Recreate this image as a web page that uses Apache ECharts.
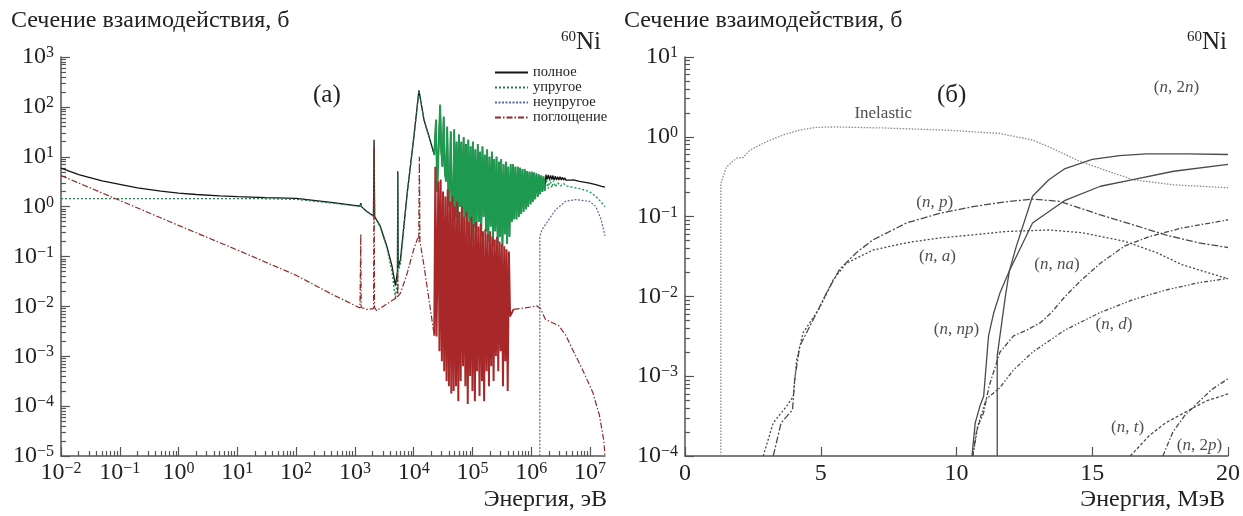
<!DOCTYPE html>
<html>
<head>
<meta charset="utf-8">
<script src="https://cdn.jsdelivr.net/npm/echarts@6.0.0/dist/echarts.min.js"></script>
<style>
html, body { margin: 0; padding: 0; background: #fff; }
#main { width: 1243px; height: 516px; }
</style>
</head>
<body>
<div id="main"></div>
<script>
var SERIF = '"Liberation Serif", "DejaVu Serif", serif';

// ---- panel (а): cross sections vs energy, eV / barn ----
var leftXTicks = [1e-2, 1e-1, 1, 10, 100, 1e3, 1e4, 1e5, 1e6, 1e7];
var leftYTicks = [1e-5, 1e-4, 1e-3, 1e-2, 1e-1, 1, 10, 100, 1e3];
var legendNames = ['полное', 'упругое', 'неупругое', 'поглощение'];

var totalLow = [[0.01,5.9],[0.02,4.4],[0.05,3.3],[0.1,2.8],[0.2,2.38],[0.5,2.04],[1,1.87],[2,1.75],[5,1.64],
  [10,1.58],[30,1.52],[100,1.46],[427,1.2],[1220,1.02],[1260,1.18],[1290,1.0],[1580,0.81],[2070,0.65],
  [2120,22],[2170,0.63],[2690,0.41],[3500,0.16],[4270,0.065],[4900,0.026],[5300,0.05],[5370,5.1],[5450,0.06],
  [5960,0.087],[7760,1.86],[10100,25.7],[12300,214],[15000,55],[18200,25.7],[22400,11]];
var elasticLow = [[0.01,1.45],[1,1.45],[30,1.44],[100,1.4],[427,1.17],[1220,1.0],[1260,1.15],[1290,0.99],
  [1580,0.8],[2070,0.64],[2120,12],[2170,0.62],[2690,0.4],[3500,0.15],[4270,0.05],[4900,0.014],[5300,0.04],
  [5370,4.5],[5450,0.05],[5960,0.07],[7760,1.8],[10100,25],[12300,212],[15000,54],[18200,25],[22400,10.8]];
// resonance region, shared by total and elastic
var resForest = [[2.4e4,55],[2.51e4,2.0],[2.82e4,110],[2.95e4,12.6],[3.09e4,6.3],[3.24e4,63],[3.39e4,5.0],
  [3.55e4,3.2],[3.72e4,40],[3.89e4,2.0],[4.07e4,1.0],[4.27e4,32],[4.47e4,1.6],[4.68e4,0.5],[4.9e4,35],
  [5.13e4,0.63],[5.37e4,20],[5.62e4,0.4],[5.89e4,28],[6.17e4,1.0],[6.46e4,20],[6.76e4,0.32],[7.08e4,25],
  [7.41e4,0.63],[7.76e4,18],[8.13e4,0.25],[8.51e4,22],[8.91e4,0.5],[9.33e4,16],[9.77e4,0.2],[1.02e5,20],
  [1.07e5,0.4],[1.12e5,14],[1.17e5,0.32],[1.23e5,18],[1.29e5,0.5],[1.35e5,12.6],[1.41e5,0.25],[1.48e5,16],
  [1.55e5,0.63],[1.62e5,11],[1.7e5,0.32],[1.78e5,14],[1.86e5,0.2],[1.95e5,10],[2.04e5,0.4],[2.14e5,12.6],
  [2.24e5,0.16],[2.34e5,8.9],[2.45e5,0.32],[2.57e5,10],[2.69e5,0.18],[2.82e5,7.9],[2.95e5,0.25],[3.09e5,8.9],
  [3.24e5,0.16],[3.39e5,7.1],[3.55e5,0.28],[3.72e5,7.9],[3.89e5,0.18],[4.07e5,6.3],[4.27e5,0.25],[4.47e5,7.1],
  [4.68e5,0.5],[4.9e5,7.1],[5.13e5,0.56],[5.37e5,6.3],[5.62e5,0.56],[5.89e5,6.3],[6.17e5,0.63],[6.46e5,6.0],
  [6.76e5,0.71],[7.08e5,5.6],[7.41e5,0.79],[7.76e5,5.6],[8.13e5,0.89],[8.51e5,5.2],[8.91e5,1.0],[9.33e5,5.0],
  [9.77e5,1.12],[1.02e6,5.0],[1.07e6,1.26],[1.12e6,4.8],[1.17e6,1.41],[1.23e6,4.6],[1.29e6,1.58],[1.35e6,4.4],
  [1.41e6,1.78],[1.48e6,4.2],[1.55e6,2.0],[1.62e6,4.0],[1.7e6,2.1]];
var totalHigh = [[1.78e6,4.4],[1.86e6,3.5],[1.95e6,4.3],[2.04e6,3.5],[2.14e6,4.2],[2.24e6,3.5],[2.34e6,4.2],
  [2.45e6,3.4],[2.57e6,4.1],[2.69e6,3.4],[2.82e6,4.0],[2.95e6,3.4],[3.09e6,4.0],[3.24e6,3.4],[3.39e6,3.9],
  [3.55e6,3.4],[3.72e6,3.8],[3.89e6,3.4],[4.07e6,3.7],[4.27e6,3.4],[4.47e6,3.6],[4.79e6,3.4],[5.25e6,3.45],
  [6.6e6,3.2],[9.8e6,2.95],[1.26e7,2.75],[1.58e7,2.55],[1.8e7,2.45]];
var elasticHigh = [[1.7e6,2.1],[1.82e6,3.5],[1.95e6,2.3],[2.09e6,3.5],[2.24e6,2.4],[2.4e6,3.3],[2.57e6,2.5],
  [2.82e6,3.0],[3.16e6,2.6],[3.55e6,2.9],[3.98e6,2.6],[5.0e6,2.45],[6.6e6,2.3],[9.8e6,2.0],[1.26e7,1.6],
  [1.58e7,1.2],[1.8e7,1.0]];
var inelasticLeft = [[1.4e6,1e-5],[1.4e6,0.255],[1.53e6,0.347],[2.0e6,0.55],[2.6e6,0.87],[3.86e6,1.28],
  [5.75e6,1.38],[9.8e6,1.28],[1.26e7,1.0],[1.55e7,0.55],[1.8e7,0.26]];
var captureLow = [[0.01,4.2],[0.1,1.33],[1,0.42],[10,0.135],[100,0.042],[427,0.017],[1220,0.0093],
  [1240,0.0095],[1260,0.28],[1280,0.0095],[1600,0.0087],[2080,0.009],[2120,15],[2160,0.0095],[2340,0.0082],
  [3100,0.0102],[4600,0.0138],[5300,0.015],[5370,0.05],[5450,0.016],[6000,0.0186],[7800,0.047],[10000,0.138],
  [11700,0.234],[12200,0.2],[12500,10],[12800,0.2],[15000,0.065],[18200,0.0138],[22400,0.0026]];
var captureForest = [[2.24e4,0.0026],[2.34e4,6.3],[2.45e4,0.0025],[2.63e4,3.2],[2.75e4,0.00126],[2.88e4,3.5],
  [3.02e4,7.9e-4],[3.16e4,2.0],[3.31e4,5.0e-4],[3.47e4,1.6],[3.63e4,3.2e-4],[3.8e4,2.2],[3.98e4,2.5e-4],
  [4.17e4,1.26],[4.37e4,1.8e-4],[4.57e4,1.6],[4.79e4,2.0e-4],[5.01e4,1.0],[5.25e4,2.5e-4],[5.5e4,1.26],
  [5.75e4,1.26e-4],[6.03e4,0.79],[6.31e4,3.2e-4],[6.61e4,1.0],[6.92e4,6.3e-4],[7.24e4,0.63],[7.59e4,2.5e-4],
  [7.94e4,0.79],[8.32e4,1.1e-4],[8.71e4,0.5],[9.12e4,4.0e-4],[9.55e4,0.63],[1.0e5,2.0e-4],[1.05e5,0.45],
  [1.1e5,1.26e-4],[1.15e5,0.5],[1.2e5,5.0e-4],[1.26e5,0.4],[1.32e5,1.6e-4],[1.38e5,0.45],[1.45e5,3.2e-4],
  [1.51e5,0.32],[1.58e5,1.26e-4],[1.66e5,0.35],[1.74e5,5.0e-4],[1.82e5,0.28],[1.91e5,2.5e-4],[2.0e5,0.32],
  [2.09e5,6.3e-4],[2.19e5,0.25],[2.29e5,3.2e-4],[2.4e5,0.22],[2.51e5,1.0e-3],[2.63e5,0.25],[2.75e5,5.0e-4],
  [2.88e5,0.2],[3.02e5,1.26e-3],[3.16e5,0.18],[3.31e5,2.5e-4],[3.47e5,0.16],[3.63e5,7.9e-4],[3.8e5,0.14],
  [3.98e5,2.0e-4],[4.17e5,0.126],[4.37e5,0.0063],[5.0e5,0.0087]];
var captureHigh = [[5.0e5,0.0087],[7.9e5,0.0093],[1.26e6,0.0102],[1.35e6,0.011],[1.45e6,0.0089],[1.74e6,0.0055],
  [2.29e6,0.0047],[2.95e6,0.0041],[3.89e6,0.0026],[5.0e6,0.0014],[7.4e6,5.5e-4],[1.12e7,1.86e-4],
  [1.45e7,6.5e-5],[1.72e7,2.0e-5],[1.8e7,1e-5]];

// ---- panel (б): reaction channels vs energy, MeV / barn ----
var rightXTicks = [0, 5, 10, 15, 20];
var rightYTicks = [1e-4, 1e-3, 1e-2, 1e-1, 1, 10];
var inelasticRight = [[1.32,1e-4],[1.32,0.26],[1.53,0.42],[1.9,0.54],[2.14,0.55],[2.39,0.68],[3.0,0.87],
  [3.6,1.05],[4.2,1.21],[4.8,1.31],[5.5,1.33],[7.3,1.29],[9.7,1.21],[11.6,1.1],[12.8,0.91],[13.4,0.75],
  [14.5,0.5],[15.3,0.4],[16.5,0.29],[18.0,0.25],[20,0.23]];
var npData = [[3.25,1e-4],[3.54,2.6e-4],[3.96,3.8e-4],[4.04,9.1e-4],[4.23,2.4e-3],[4.72,5.1e-3],[5.21,0.011],
  [5.7,0.022],[6.3,0.035],[6.92,0.051],[8.15,0.083],[9.38,0.11],[10.6,0.133],[11.6,0.15],[12.8,0.166],
  [13.8,0.155],[15.3,0.105],[16.5,0.079],[17.7,0.059],[18.9,0.047],[20,0.041]];
var naData = [[2.88,1e-4],[3.25,2.6e-4],[3.74,4.2e-4],[3.99,5.6e-4],[4.11,1.6e-3],[4.35,3.5e-3],[4.96,7.2e-3],
  [5.45,0.016],[5.94,0.026],[6.92,0.038],[8.15,0.047],[9.38,0.054],[10.6,0.059],[11.8,0.065],[13.4,0.068],
  [14.6,0.063],[16.2,0.049],[17.4,0.035],[18.3,0.025],[20,0.0166]];
var n2nData = [[11.5,1e-4],[11.5,1.8e-3],[11.55,2.4e-3],[11.8,0.01],[11.95,0.021],[12.2,0.042],[12.8,0.18],
  [13.4,0.29],[14.0,0.4],[15.0,0.52],[16.0,0.58],[17.0,0.61],[18.5,0.61],[20,0.6]];
var nnpData = [[10.57,1e-4],[10.69,2.6e-4],[10.87,4.3e-4],[11.0,5.6e-4],[11.18,3.2e-3],[11.37,6.2e-3],
  [11.6,0.011],[11.95,0.021],[12.8,0.083],[14.0,0.16],[15.3,0.24],[16.5,0.29],[18.0,0.37],[20,0.45]];
var nnaData = [[10.6,1e-4],[10.75,2.2e-4],[11.0,3.5e-4],[11.2,7.5e-4],[11.6,2.0e-3],[12.1,3.2e-3],[12.6,3.8e-3],
  [13.1,4.7e-3],[13.5,6.3e-3],[14.0,0.01],[14.6,0.016],[15.3,0.026],[16.2,0.043],[17.1,0.056],[18.3,0.072],
  [20,0.091]];
var ndData = [[10.6,1e-4],[10.8,2.5e-4],[11.1,5.2e-4],[11.6,7.2e-4],[12.1,1.2e-3],[12.8,2.0e-3],[14.0,3.8e-3],
  [15.3,6.3e-3],[16.5,9.1e-3],[17.7,0.012],[18.9,0.0148],[20,0.0168]];
var ntData = [[16.4,1e-4],[17.1,1.8e-4],[17.7,2.6e-4],[18.4,3.5e-4],[19.2,4.9e-4],[20,6.0e-4]];
var n2pData = [[17.6,1e-4],[17.97,2.0e-4],[18.4,3.2e-4],[18.9,4.7e-4],[19.4,6.8e-4],[20,9.3e-4]];

var curveLabels = ['Inelastic', '({i|n}, 2{i|n})', '({i|n}, {i|p})', '({i|n}, {i|a})', '({i|n}, {i|na})',
  '({i|n}, {i|np})', '({i|n}, {i|d})', '({i|n}, {i|t})', '({i|n}, 2{i|p})'];
var curveLabelAt = [[7.3,1.95],[18.1,4.2],[9.2,0.15],[9.3,0.032],[13.7,0.025],[10.0,0.0038],[15.8,0.0045],
  [16.3,2.3e-4],[18.95,1.35e-4]];

function minorsOf(majors) {
  var out = [];
  for (var i = 0; i < majors.length - 1; i++) {
    for (var k = 2; k <= 9; k++) out.push(+(majors[i] * k).toPrecision(3));
  }
  return out;
}

function pow10Label(v) {
  var e = Math.round(Math.log10(v));
  return '{b|10}{s|' + (e < 0 ? '\u2212' + (-e) : e) + '}';
}
var powRich = {
  b: { fontFamily: SERIF, fontSize: 24, color: '#222' },
  s: { fontFamily: SERIF, fontSize: 16, color: '#222', verticalAlign: 'top' }
};
var axisColor = '#555';

function logAxis(gridIndex, min, max, majors, isMain, pos) {
  return {
    type: 'log', logBase: 10, gridIndex: gridIndex, min: min, max: max, position: pos,
    axisLine: { show: isMain, onZero: false, lineStyle: { color: axisColor, width: 1.5 } },
    axisTick: { show: true, inside: true, length: isMain ? 9 : 5,
      customValues: isMain ? majors : minorsOf(majors), lineStyle: { color: axisColor, width: 1.2 } },
    axisLabel: isMain ? { show: true, customValues: majors, formatter: pow10Label, rich: powRich,
      margin: pos === 'left' ? 7 : 5 } : { show: false },
    splitLine: { show: false }
  };
}

function line(name, data, xi, yi, color, type, width, z) {
  return {
    name: name, type: 'line', xAxisIndex: xi, yAxisIndex: yi, data: data,
    showSymbol: false, symbol: 'none', animation: false, z: z,
    lineStyle: { color: color, width: width, type: type }, itemStyle: { color: color }
  };
}

var labelData = curveLabels.map(function (t, i) {
  return { name: t, value: curveLabelAt[i] };
});

var titleFont = { fontFamily: SERIF, fontSize: 24, fontWeight: 'normal', color: '#222' };
var niStyle = { fontWeight: 'normal', rich: {
  s: { fontFamily: SERIF, fontSize: 15, fontWeight: 'normal', color: '#222', verticalAlign: 'top' },
  b: { fontFamily: SERIF, fontSize: 25, fontWeight: 'normal', color: '#222' } } };

var chart = echarts.init(document.getElementById('main'));
var rightGrey = '#4a4a4a';
var option = {
  backgroundColor: '#fff',
  animation: false,
  textStyle: { fontFamily: SERIF },
  title: [
    { text: 'Сечение взаимодействия, б', left: 6, top: 4, textStyle: titleFont },
    { text: 'Сечение взаимодействия, б', left: 619, top: 4, textStyle: titleFont },
    { text: '{s|60}{b|Ni}', left: 556, top: 25, textStyle: niStyle },
    { text: '{s|60}{b|Ni}', left: 1182, top: 25, textStyle: niStyle },
    { text: '(а)', left: 308, top: 78, textStyle: { fontFamily: SERIF, fontSize: 25, fontWeight: 'normal', color: '#222' } },
    { text: '(б)', left: 932, top: 78, textStyle: { fontFamily: SERIF, fontSize: 25, fontWeight: 'normal', color: '#222' } },
    { text: 'Энергия, эВ', right: 631, top: 483, textStyle: titleFont },
    { text: 'Энергия, МэВ', right: 13, top: 483, textStyle: titleFont }
  ],
  legend: {
    data: legendNames, orient: 'vertical', left: 494, top: 65, itemGap: 0,
    itemWidth: 33, itemHeight: 11.5, padding: 0,
    itemStyle: { opacity: 0 },
    textStyle: { fontFamily: SERIF, fontSize: 14.5, lineHeight: 11.5, color: '#222' }
  },
  grid: [
    { left: 61, top: 57, width: 544, height: 399 },
    { left: 685, top: 57, width: 544, height: 399 }
  ],
  xAxis: [
    logAxis(0, 0.01, 1.8e7, leftXTicks, true, 'bottom'),
    logAxis(0, 0.01, 1.8e7, leftXTicks, false, 'bottom'),
    {
      type: 'value', gridIndex: 1, min: 0, max: 20, interval: 5, position: 'bottom',
      axisLine: { onZero: false, lineStyle: { color: axisColor, width: 1.5 } },
      axisTick: { inside: true, length: 9, lineStyle: { color: axisColor, width: 1.2 } },
      axisLabel: { color: '#222', fontFamily: SERIF, fontSize: 24, margin: 6,
        customValues: rightXTicks },
      splitLine: { show: false }
    }
  ],
  yAxis: [
    logAxis(0, 1e-5, 1e3, leftYTicks, true, 'left'),
    logAxis(0, 1e-5, 1e3, leftYTicks, false, 'left'),
    logAxis(1, 1e-4, 10, rightYTicks, true, 'left'),
    logAxis(1, 1e-4, 10, rightYTicks, false, 'left')
  ],
  series: [
    line('полное', totalLow.concat(resForest, totalHigh), 0, 0, '#151515', 'solid', 1.3, 2),
    line('упругое', elasticLow, 0, 0, '#23804a', [2, 2], 1.3, 3),
    line('упругое', [[22400,10.8]].concat(resForest), 0, 0, '#1e9a50', 'solid', 1.9, 3),
    line('упругое', elasticHigh, 0, 0, '#1e9a50', [2, 2], 1.4, 3),
    line('неупругое', inelasticLeft, 0, 0, '#5b67a6', [2, 1.5], 1.2, 4),
    line('поглощение', captureLow, 0, 0, '#8e2a2a', [6, 2, 1.5, 2], 1.2, 5),
    line('поглощение', captureForest, 0, 0, '#a8282a', 'solid', 2.0, 5),
    line('поглощение', captureHigh, 0, 0, '#8e2a2a', [6, 2, 1.5, 2], 1.2, 5),
    line('inelastic', inelasticRight, 2, 2, '#8a8a8a', [1.5, 1.5], 1.3, 2),
    line('(n,p)', npData, 2, 2, rightGrey, [7, 2, 2, 2], 1.3, 2),
    line('(n,a)', naData, 2, 2, rightGrey, [2, 2], 1.3, 2),
    line('(n,2n)', n2nData, 2, 2, rightGrey, 'solid', 1.3, 2),
    line('(n,np)', nnpData, 2, 2, rightGrey, 'solid', 1.3, 2),
    line('(n,na)', nnaData, 2, 2, rightGrey, [5, 2, 1.5, 2], 1.3, 2),
    line('(n,d)', ndData, 2, 2, rightGrey, [4, 2, 1.5, 2, 1.5, 2], 1.3, 2),
    line('(n,t)', ntData, 2, 2, rightGrey, [3, 2], 1.3, 2),
    line('(n,2p)', n2pData, 2, 2, rightGrey, [5, 2, 1.5, 2], 1.3, 2),
    {
      type: 'scatter', xAxisIndex: 2, yAxisIndex: 2, data: labelData, symbolSize: 0,
      silent: true, animation: false, z: 6,
      label: {
        show: true, position: 'inside', color: '#222', fontFamily: SERIF, fontSize: 17,
        formatter: function (p) { return p.name; },
        rich: { i: { fontFamily: SERIF, fontSize: 17, fontStyle: 'italic', color: '#222' } }
      }
    }
  ]
};
chart.setOption(option);
</script>
</body>
</html>
